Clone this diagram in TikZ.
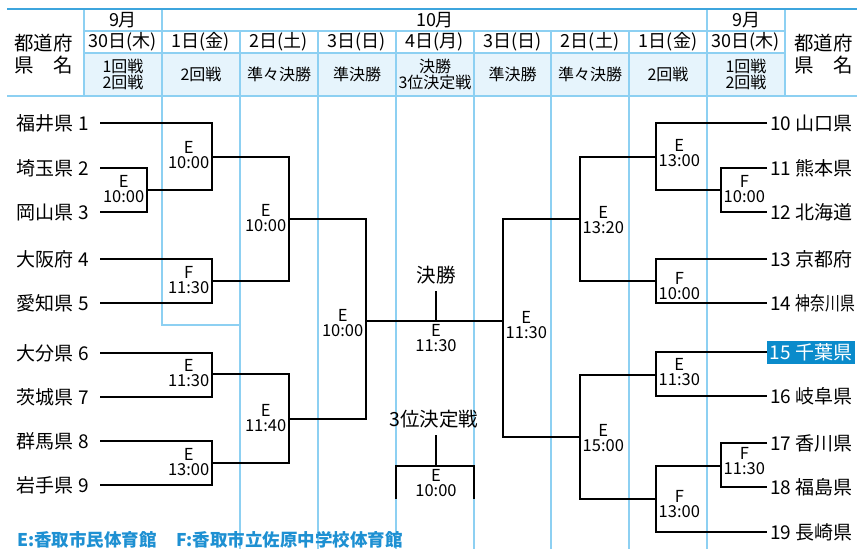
\documentclass[tikz,border=0pt]{standalone}
\usepackage{fontspec}
\usepackage{graphicx}
\setmainfont{Noto Sans CJK JP}
\usetikzlibrary{positioning}
\definecolor{hdrblue}{HTML}{3DA5DD}
\definecolor{gridblue}{HTML}{8DD0F2}
\definecolor{hdrfill}{HTML}{E6F4FC}
\definecolor{chibablue}{HTML}{0A8BCB}
\definecolor{noteblue}{HTML}{1E90D2}

\begin{document}
\begin{tikzpicture}[x=1pt,y=-1pt,
	grid/.style={gridblue, line width=1.2pt},
	bracket/.style={black, line width=1.3pt},
	team/.style={font=\fontsize{19}{19}\selectfont, inner sep=0pt},
	game/.style={font=\fontsize{16.5}{15}\selectfont, align=center, inner sep=1pt},
	head/.style={font=\fontsize{18}{22}\selectfont, align=center, inner sep=0pt},
	pref/.style={font=\fontsize{19.5}{22}\selectfont, align=center, inner sep=0pt},
	rnd/.style={font=\fontsize{16}{16}\selectfont, align=center, inner sep=0pt},
	note/.style={font=\fontsize{17.5}{17.5}\selectfont\bfseries, text=noteblue, inner sep=0pt, anchor=west}]
	\useasboundingbox (0,0) rectangle (857,549);
	%\draw[help lines] (0,0) grid[step=50] (857,549);
	\fill[hdrfill] (84,53) rectangle (785,96);
	\draw[grid] (84,31) -- (785,31) (84,53) -- (785,53);
	\foreach \x in {84,162,707,785} \draw[grid] (\x,9) -- (\x,96);
	\foreach \x in {240,318,396,474,551,629} \draw[grid] (\x,31) -- (\x,96);
	\foreach \x in {240,318,396,474,551,629,707} \draw[grid] (\x,96) -- (\x,549);
	\draw[grid] (162,96) -- (162,325) -- (240,325);
	\draw[hdrblue, line width=2pt] (7,9) -- (857,9);
	\draw[gridblue, line width=1.8pt] (7,96) -- (857,96);

	\node[head] (mo1) at (123,20) {9月};
	\node[head] (mo2) at (435,20) {10月};
	\node[head] (mo3) at (746,20) {9月};
	\node[pref] (prl) at (43.5,54) {都道府\\県　名};
	\node[pref] (prr) at (823.5,54) {都道府\\県　名};
	\foreach \x/\d/\r [count=\i] in {123/30日(木)/{1回戦\\2回戦}, 201/1日(金)/2回戦,
		279/2日(土)/準々決勝, 357/3日(日)/準決勝, 435/4日(月)/{決勝\\3位決定戦},
		512.5/3日(日)/準決勝, 590/2日(土)/準々決勝, 668/1日(金)/2回戦,
		746/30日(木)/{1回戦\\2回戦}} {
		\node[head] (d\i) at (\x,42) {\d};
		\node[rnd] (r\i) at (\x,74.5) {\r};
	}

	% teams
	\foreach \y/\t [count=\i] in {123/福井県, 168/埼玉県, 212/岡山県, 259/大阪府, 303/愛知県,
		353/大分県, 397/茨城県, 441/群馬県, 485/岩手県} {
		\coordinate (p\i) at (100,\y);
		\node[team, left=11pt of p\i] (t\i) {\t\ \i};
	}
	\foreach \y [count=\i from 10] in {123, 168, 212, 259, 303, 352, 396, 443, 487, 532}
		\coordinate (p\i) at (767,\y);
	\foreach \i/\t in {10/山口県, 11/熊本県, 12/北海道, 13/京都府,
		14/\scalebox{0.78}[1]{神奈川県}, 16/岐阜県, 17/香川県, 18/福島県, 19/長崎県}
		\node[team, right=3pt of p\i] (t\i) {\i\ \t};
	\node[team, fill=chibablue, text=white, inner xsep=2.5pt, minimum height=23pt,
		right=0pt of p15] (t15) {15 千葉県};

	% left side
	\coordinate (m23) at (147,190);
	\coordinate (m123) at (212,157);
	\coordinate (m45) at (212,281);
	\coordinate (m15) at (289,219);
	\coordinate (m67) at (212,374);
	\coordinate (m89) at (212,463);
	\coordinate (m69) at (289,419);
	\coordinate (sfl) at (366,321);
	\draw[bracket] (p2) -| (m23) |- (p3);
	\draw[bracket] (p1) -| (m123) |- (m23);
	\draw[bracket] (p4) -| (m45) |- (p5);
	\draw[bracket] (m123) -| (m15) |- (m45);
	\draw[bracket] (p6) -| (m67) |- (p7);
	\draw[bracket] (p8) -| (m89) |- (p9);
	\draw[bracket] (m67) -| (m69) |- (m89);
	\draw[bracket] (m15) -| (sfl) |- (m69);
	\node[game, left=1.5pt of m23, yshift=1pt] (g23) {E\\10:00};
	\node[game, left=1.5pt of m123, yshift=2pt] (g123) {E\\10:00};
	\node[game, left=1.5pt of m45, yshift=1pt] (g45) {F\\11:30};
	\node[game, left=1.5pt of m15, yshift=1pt] (g15) {E\\10:00};
	\node[game, left=1.5pt of m67, yshift=1pt] (g67) {E\\11:30};
	\node[game, left=1.5pt of m89, yshift=1pt] (g89) {E\\13:00};
	\node[game, left=1.5pt of m69, yshift=1pt] (g69) {E\\11:40};
	\node[game, left=1.5pt of sfl, yshift=-2pt] (gsfl) {E\\10:00};

	% right side
	\coordinate (m1112) at (721,190);
	\coordinate (m1012) at (656,157);
	\coordinate (m1314) at (656,281);
	\coordinate (m1014) at (580,219);
	\coordinate (m1516) at (656,375);
	\coordinate (m1718) at (721,466);
	\coordinate (m1719) at (656,499);
	\coordinate (m1519) at (580,437);
	\coordinate (sfr) at (503,321);
	\draw[bracket] (p11) -| (m1112) |- (p12);
	\draw[bracket] (p10) -| (m1012) |- (m1112);
	\draw[bracket] (p13) -| (m1314) |- (p14);
	\draw[bracket] (m1012) -| (m1014) |- (m1314);
	\draw[bracket] (p15) -| (m1516) |- (p16);
	\draw[bracket] (p17) -| (m1718) |- (p18);
	\draw[bracket] (m1718) -| (m1719) |- (p19);
	\draw[bracket] (m1516) -| (m1519) |- (m1719);
	\draw[bracket] (m1014) -| (sfr) |- (m1519);
	\node[game, right=1.5pt of m1112, yshift=1pt] (g1112) {F\\10:00};
	\node[game, right=1.5pt of m1012, yshift=4pt] (g1012) {E\\13:00};
	\node[game, right=1.5pt of m1314, yshift=-5pt] (g1314) {F\\10:00};
	\node[game, right=1.5pt of m1014, yshift=-1pt] (g1014) {E\\13:20};
	\node[game, right=1.5pt of m1516, yshift=3pt] (g1516) {E\\11:30};
	\node[game, right=1.5pt of m1718, yshift=5pt] (g1718) {F\\11:30};
	\node[game, right=1.5pt of m1719, yshift=-5pt] (g1719) {F\\13:00};
	\node[game, right=1.5pt of m1519, yshift=-1pt] (g1519) {E\\15:00};
	\node[game, right=1.5pt of sfr, yshift=-4pt] (gsfr) {E\\11:30};

	% final and 3rd place
	\draw[bracket] (sfl) -- (sfr);
	\coordinate (cf) at (436,321);
	\node[pref] (tf) at (436,275) {決勝};
	\draw[bracket] ([yshift=-7pt]tf.south) -- (cf);
	\node[game, below=2pt of cf] (gf) {E\\11:30};
	\coordinate (c3) at (436,466);
	\coordinate (c3l) at (396,499);
	\coordinate (c3r) at (474,499);
	\node[pref] (t3) at (434,419) {3位決定戦};
	\draw[bracket] ([yshift=-7pt]t3.south -| c3) -- (c3);
	\draw[bracket] (c3l) |- (c3) -| (c3r);
	\node[game, below=2pt of c3] (g3) {E\\10:00};

	\node[note] (ne) at (17,540) {E:香取市民体育館};
	\node[note] (nf) at (176,540) {F:香取市立佐原中学校体育館};
\end{tikzpicture}
\end{document}
